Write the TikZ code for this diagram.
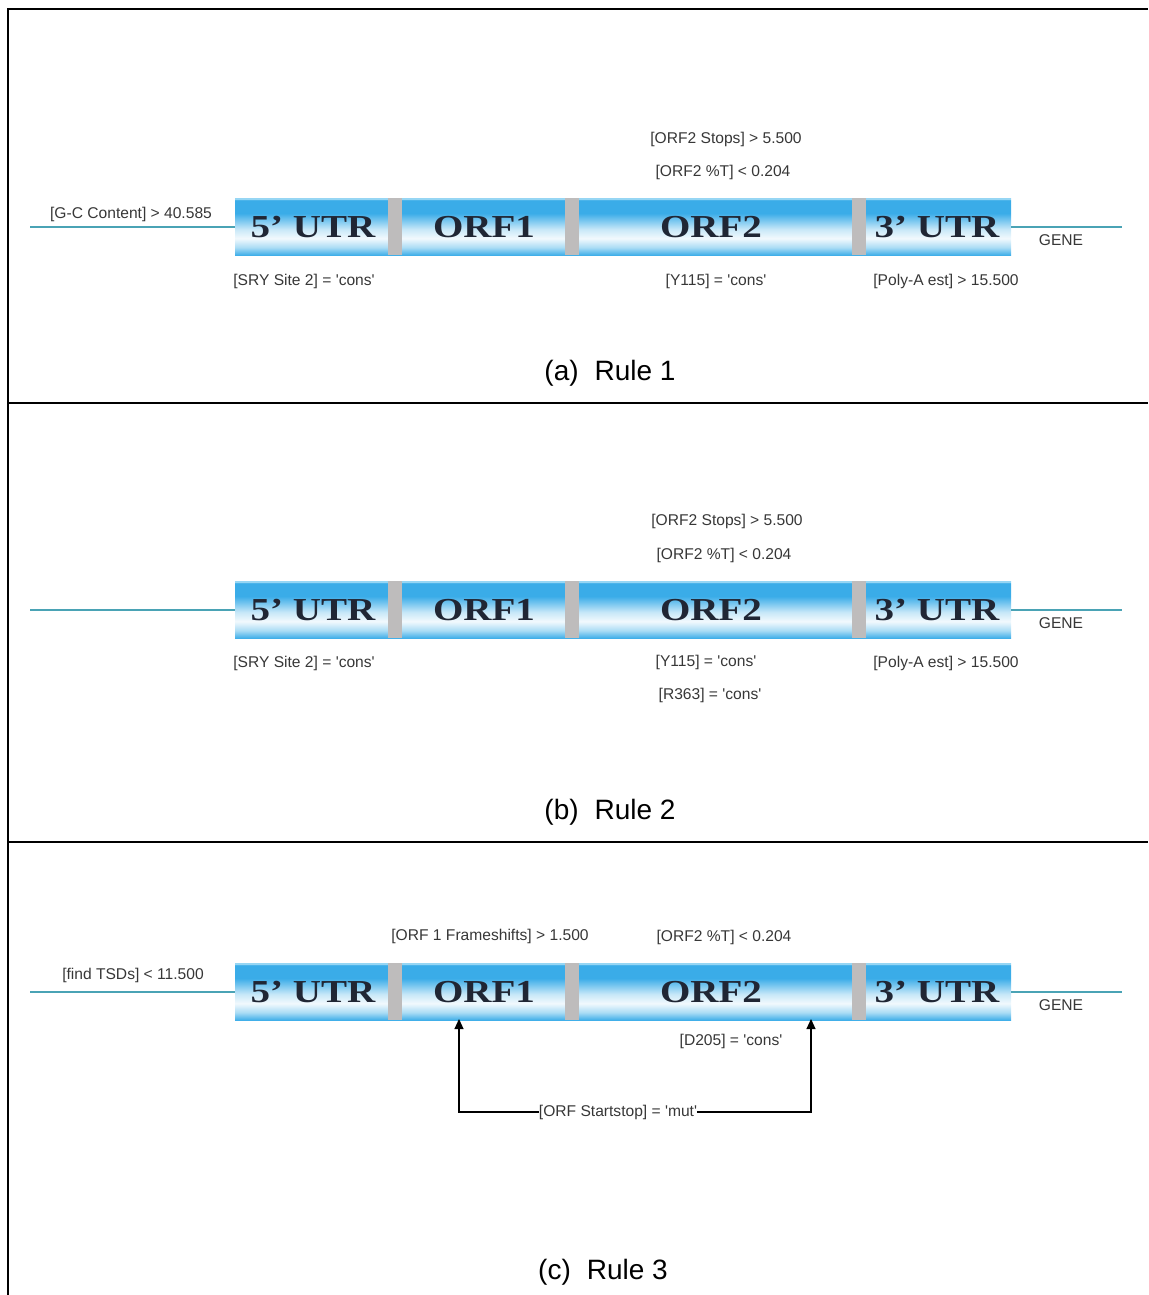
\documentclass[tikz,border=0pt]{standalone}
\usepackage{fontspec}
\setmainfont{Liberation Sans}
\newfontfamily\barfont{Liberation Serif}[FakeStretch=1.22]
\usetikzlibrary{arrows.meta}

\definecolor{genecyan}{RGB}{74,163,181}
\definecolor{bartext}{RGB}{32,38,52}
\definecolor{labelgray}{RGB}{55,55,55}
\definecolor{sepgray}{RGB}{190,188,188}
\definecolor{barblue}{RGB}{58,172,232}
\definecolor{barpale}{RGB}{170,220,245}
\definecolor{barwhite}{RGB}{242,249,253}
\definecolor{barmid}{RGB}{200,232,248}
\definecolor{barrim}{RGB}{150,214,244}

\pgfdeclareverticalshading{barshade}{100bp}{color(0bp)=(barblue); color(25bp)=(barblue); color(32bp)=(barpale); color(40bp)=(barwhite); color(48bp)=(barmid); color(62bp)=(barblue); color(73.5bp)=(barblue); color(74.5bp)=(barrim); color(100bp)=(barrim)}

\newcommand{\q}{\textquotesingle}

\tikzset{
  barbox/.style={inner sep=0pt, outer sep=0pt, minimum width=388pt, minimum height=28.5pt, shading=barshade},
  sepfill/.style={fill=sepgray},
  seglabel/.style={font=\barfont\bfseries\fontsize{16}{18}\selectfont, text=bartext, inner sep=0pt},
  rulelabel/.style={font=\fontsize{7.8}{9}\selectfont, text=labelgray, inner sep=1pt},
  caption/.style={font=\fontsize{14}{16}\selectfont, inner sep=0pt},
  geneline/.style={genecyan, line width=0.8pt},
  frameline/.style={line width=1pt},
  pointer/.style={line width=0.6pt, -{Triangle[length=5pt, width=4.5pt]}},
}

\begin{document}
\begin{tikzpicture}[x=0.5pt, y=-0.5pt]
  \useasboundingbox (0,0) rectangle (1148,1295);

  % frame
  \draw[frameline] (8,1295) -- (8,9) -- (1148,9);
  \draw[frameline] (8,403) -- (1148,403);
  \draw[frameline] (8,842) -- (1148,842);

  % the three gene bars
  \foreach \r/\y in {a/227, b/610, c/992}{
    \node[barbox] (\r-bar) at (623,\y) {};
    \foreach \sx in {388, 565, 852}
      \fill[sepfill] (\sx,\y-29) rectangle ++(14,57);
    \node[seglabel] (\r-utr5) at (313,\y) {5’ UTR};
    \node[seglabel] (\r-orf1) at (484,\y) {ORF1};
    \node[seglabel] (\r-orf2) at (711,\y) {ORF2};
    \node[seglabel] (\r-utr3) at (937,\y) {3’ UTR};
    \node[rulelabel] (\r-gene) at (1061,\y+13) {GENE};
    \coordinate (\r-left) at (30,\y);
    \coordinate (\r-right) at (1122,\y);
    \draw[geneline] (\r-left) -- (\r-bar.west);
    \draw[geneline] (\r-bar.east) -- (\r-right);
  }

  % (a) rule 1
  \node[rulelabel] (a-gc) at (131,214) {[G-C Content] > 40.585};
  \node[rulelabel] (a-stops) at (726,139) {[ORF2 Stops] > 5.500};
  \node[rulelabel] (a-pct) at (723,172) {[ORF2 \%T] < 0.204};
  \node[rulelabel] (a-sry) at (304,281) {[SRY Site 2] = \q cons\q};
  \node[rulelabel] (a-y115) at (716,281) {[Y115] = \q cons\q};
  \node[rulelabel] (a-polya) at (946,281) {[Poly-A est] > 15.500};
  \node[caption] (a-cap) at (610,373) {(a)\hspace{0.57em}Rule 1};

  % (b) rule 2
  \node[rulelabel] (b-stops) at (727,521) {[ORF2 Stops] > 5.500};
  \node[rulelabel] (b-pct) at (724,555) {[ORF2 \%T] < 0.204};
  \node[rulelabel] (b-sry) at (304,663) {[SRY Site 2] = \q cons\q};
  \node[rulelabel] (b-y115) at (706,662) {[Y115] = \q cons\q};
  \node[rulelabel] (b-r363) at (710,695) {[R363] = \q cons\q};
  \node[rulelabel] (b-polya) at (946,663) {[Poly-A est] > 15.500};
  \node[caption] (b-cap) at (610,812) {(b)\hspace{0.57em}Rule 2};

  % (c) rule 3
  \node[rulelabel] (c-tsd) at (133,975) {[find TSDs] < 11.500};
  \node[rulelabel] (c-fs) at (490,936) {[ORF 1 Frameshifts] > 1.500};
  \node[rulelabel] (c-pct) at (724,937) {[ORF2 \%T] < 0.204};
  \node[rulelabel] (c-d205) at (731,1041) {[D205] = \q cons\q};
  \node[rulelabel, inner sep=0pt] (c-mut) at (618,1112) {[ORF Startstop] = \q mut\q};
  \coordinate (c-tipl) at (459,1019);
  \coordinate (c-tipr) at (811,1019);
  \draw[pointer] (c-mut.west) -| (c-tipl);
  \draw[pointer] (c-mut.east) -| (c-tipr);
  \node[caption] (c-cap) at (603,1272) {(c)\hspace{0.57em}Rule 3};
\end{tikzpicture}
\end{document}
